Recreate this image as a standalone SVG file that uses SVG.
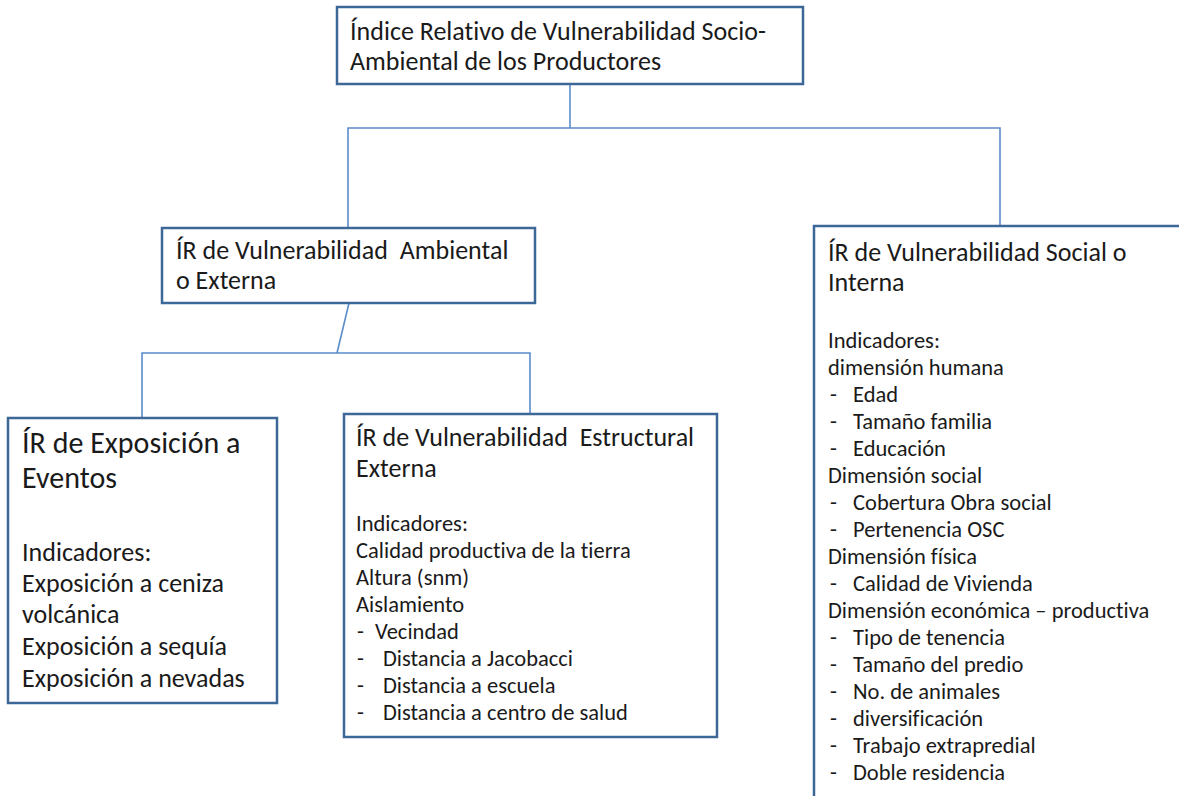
<svg xmlns="http://www.w3.org/2000/svg" width="1179" height="796" viewBox="0 0 1179 796">
<style>
.box{fill:#ffffff;stroke:#3d6796;stroke-width:2.5}
.conn{fill:none;stroke:#5b8ccb;stroke-width:1.6}
text{font-family:Carlito,Lato,"Liberation Sans",sans-serif;fill:#1a1a1a;white-space:pre;font-variant-ligatures:none;font-feature-settings:"liga" 0,"clig" 0;letter-spacing:0.01px}
.t{font-size:26px}
.b{font-size:22.5px}
.tl{font-size:30px}
.bl{font-size:26px}
</style>
<rect width="1179" height="796" fill="#ffffff"/>
<g id="connectors">
<polyline class="conn" points="570,84 570,128"/>
<polyline class="conn" points="348,227 348,128 1000,128 1000,226"/>
<polyline class="conn" points="349,303 337,353"/>
<polyline class="conn" points="142,418 142,353 530,353 530,414"/>
</g>
<g id="root">
<rect class="box" x="337" y="7" width="466" height="77"/>
<text class="t" x="350" y="40">Índice Relativo de Vulnerabilidad Socio-</text>
<text class="t" x="350" y="70">Ambiental de los Productores</text>
</g>
<g id="ambiental">
<rect class="box" x="162" y="228" width="373" height="75"/>
<text class="t" x="176" y="259" xml:space="preserve">ÍR de Vulnerabilidad  Ambiental</text>
<text class="t" x="176" y="289">o Externa</text>
</g>
<g id="social">
<rect class="box" x="814" y="226" width="400" height="580"/>
<text class="t" x="828" y="261">ÍR de Vulnerabilidad Social o</text>
<text class="t" x="828" y="291">Interna</text>
<text class="b" x="828" y="348">Indicadores:</text>
<text class="b" x="828" y="375">dimensión humana</text>
<text class="b" x="830" y="402">-</text><text class="b" x="853" y="402">Edad</text>
<text class="b" x="830" y="429">-</text><text class="b" x="853" y="429">Tamaño familia</text>
<text class="b" x="830" y="456">-</text><text class="b" x="853" y="456">Educación</text>
<text class="b" x="828" y="483">Dimensión social</text>
<text class="b" x="830" y="510">-</text><text class="b" x="853" y="510">Cobertura Obra social</text>
<text class="b" x="830" y="537">-</text><text class="b" x="853" y="537">Pertenencia OSC</text>
<text class="b" x="828" y="564">Dimensión física</text>
<text class="b" x="830" y="591">-</text><text class="b" x="853" y="591">Calidad de Vivienda</text>
<text class="b" x="828" y="618">Dimensión económica – productiva</text>
<text class="b" x="830" y="645">-</text><text class="b" x="853" y="645">Tipo de tenencia</text>
<text class="b" x="830" y="672">-</text><text class="b" x="853" y="672">Tamaño del predio</text>
<text class="b" x="830" y="699">-</text><text class="b" x="853" y="699">No. de animales</text>
<text class="b" x="830" y="726">-</text><text class="b" x="853" y="726">diversificación</text>
<text class="b" x="830" y="753">-</text><text class="b" x="853" y="753">Trabajo extrapredial</text>
<text class="b" x="830" y="780">-</text><text class="b" x="853" y="780">Doble residencia</text>
</g>
<g id="exposicion">
<rect class="box" x="8" y="418" width="269" height="285"/>
<text class="tl" x="22" y="453">ÍR de Exposición a</text>
<text class="tl" x="22" y="488">Eventos</text>
<text class="bl" x="22" y="561">Indicadores:</text>
<text class="bl" x="22" y="592">Exposición a ceniza</text>
<text class="bl" x="22" y="623">volcánica</text>
<text class="bl" x="22" y="655">Exposición a sequía</text>
<text class="bl" x="22" y="687">Exposición a nevadas</text>
</g>
<g id="estructural">
<rect class="box" x="344" y="414" width="373" height="323"/>
<text class="t" x="356" y="446" xml:space="preserve">ÍR de Vulnerabilidad  Estructural</text>
<text class="t" x="356" y="477">Externa</text>
<text class="b" x="356" y="531">Indicadores:</text>
<text class="b" x="356" y="558">Calidad productiva de la tierra</text>
<text class="b" x="356" y="585">Altura (snm)</text>
<text class="b" x="356" y="612">Aislamiento</text>
<text class="b" x="357" y="639">-</text><text class="b" x="375" y="639">Vecindad</text>
<text class="b" x="357" y="666">-</text><text class="b" x="383" y="666">Distancia a Jacobacci</text>
<text class="b" x="357" y="693">-</text><text class="b" x="383" y="693">Distancia a escuela</text>
<text class="b" x="357" y="720">-</text><text class="b" x="383" y="720">Distancia a centro de salud</text>
</g>
</svg>
